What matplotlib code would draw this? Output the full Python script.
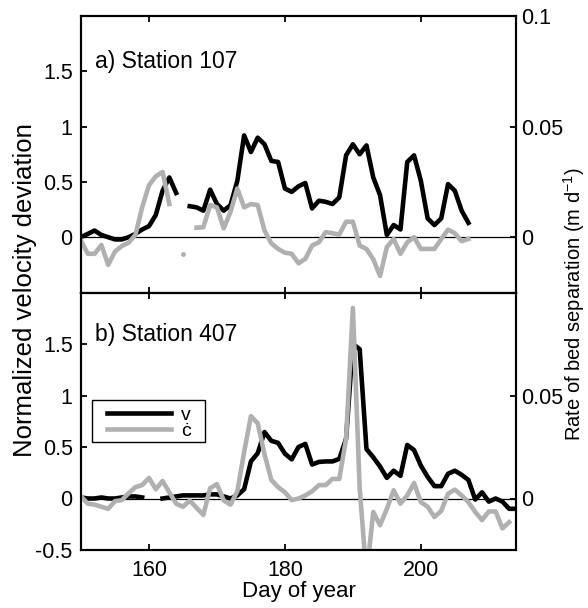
import numpy as np
import matplotlib.pyplot as plt
from matplotlib.patches import Rectangle
from matplotlib.ticker import FormatStrFormatter

plt.rcParams['font.family'] = ['Liberation Sans', 'DejaVu Sans']
plt.rcParams['mathtext.default'] = 'regular'
plt.rcParams['axes.unicode_minus'] = False

nan = np.nan

# station 107, days 150-207
days107 = np.arange(150, 208)
v107 = [0.00, 0.03, 0.06, 0.02, 0.00, -0.02, -0.02, 0.00, 0.03, 0.07,   # 150-159
        0.10, 0.20, 0.42, 0.54, 0.40, nan, 0.28, 0.27, 0.24, 0.43,      # 160-169
        0.30, 0.24, 0.29, 0.51, 0.92, 0.77, 0.90, 0.84, 0.69, 0.68,     # 170-179
        0.44, 0.41, 0.46, 0.49, 0.26, 0.33, 0.32, 0.30, 0.36, 0.74,     # 180-189
        0.84, 0.75, 0.83, 0.54, 0.38, 0.02, 0.11, 0.07, 0.68, 0.74,     # 190-199
        0.51, 0.17, 0.11, 0.17, 0.48, 0.42, 0.24, 0.13]                 # 200-207
# rate of bed separation (m/d)
c107 = [-0.0015, -0.0075, -0.0075, -0.0035, -0.0125, -0.0065, -0.0040, -0.0025, 0.0010, 0.0135,
        0.0235, 0.0275, 0.0295, 0.0150, nan, -0.0075, nan, 0.0043, 0.0045, 0.0145,
        0.0135, 0.0040, 0.0115, 0.0220, 0.0135, 0.0150, 0.0145, 0.0030, -0.0028, -0.0053,
        -0.0070, -0.0075, -0.0118, -0.0098, -0.0038, -0.0023, 0.0023, 0.0018, 0.0012, 0.0070,
        0.0070, -0.0038, -0.0053, -0.0100, -0.0175, -0.0045, -0.0008, -0.0075, -0.0023, 0.0000,
        -0.0053, -0.0053, -0.0053, -0.0008, 0.0034, 0.0018, -0.0018, -0.0008]

# station 407, days 150-214
days407 = np.arange(150, 215)
v407 = [0.01, 0.00, 0.00, 0.01, 0.00, 0.00, 0.01, 0.02, 0.02, 0.01,     # 150-159
        nan, nan, 0.00, 0.01, 0.02, 0.03, 0.03, 0.03, 0.03, 0.04,       # 160-169
        0.04, 0.02, 0.00, 0.03, 0.09, 0.36, 0.44, 0.645, 0.56, 0.54,    # 170-179
        0.435, 0.38, 0.50, 0.53, 0.33, 0.355, 0.36, 0.36, 0.385, 0.58,  # 180-189
        1.50, 1.45, 0.48, 0.40, 0.31, 0.20, 0.27, 0.22, 0.52, 0.47,     # 190-199
        0.32, 0.21, 0.12, 0.12, 0.24, 0.27, 0.23, 0.18, -0.01, 0.06,    # 200-209
        -0.03, 0.00, -0.03, -0.10, -0.10]                               # 210-214
c407 = [0.0010, -0.0025, -0.0030, -0.0040, -0.0050, -0.0013, -0.0008, 0.0025, 0.0055, 0.0065,
        0.0100, 0.0045, 0.0085, 0.0030, -0.0025, -0.0040, -0.0010, -0.0045, -0.0080, 0.0050,
        0.0070, -0.0010, -0.0030, 0.0035, 0.0225, 0.0400, 0.0365, 0.0215, 0.0090, 0.0055,
        0.0030, -0.0008, 0.0000, 0.0015, 0.0035, 0.0065, 0.0065, 0.0095, 0.0095, 0.0290,
        0.0925, 0.0050, -0.0375, -0.0065, -0.0130, -0.0050, 0.0040, -0.0025, 0.0015, 0.0075,
        -0.0018, -0.0040, -0.0090, -0.0060, 0.0023, 0.0043, 0.0015, -0.0018, -0.0065, -0.0105,
        -0.0063, -0.0063, -0.0145, -0.0115, nan]

gray = '#b0b0b0'
lw = 3.3

fig = plt.figure(figsize=(5.88, 6.08), dpi=100)
ax_top = fig.add_axes([81 / 588, 1 - 292.5 / 608, 435 / 588, 276.5 / 608])
ax_bot = fig.add_axes([81 / 588, 1 - 550 / 608, 435 / 588, 257.5 / 608])


def panel(ax, d, v, c, title, yticks, rticks):
    ax.axhline(0, color='k', lw=0.9)
    lv, = ax.plot(d, v, color='k', lw=lw)
    ax.set_xlim(150, 214)
    ax.set_ylim(-0.5, 2.0)
    ax.set_xticks([160, 180, 200])
    ax.set_yticks(yticks)
    ax.yaxis.set_major_formatter(FormatStrFormatter('%g'))
    ax.tick_params(direction='in', length=4, width=1.3, top=True, labelsize=15.5)
    ax.tick_params(axis='x', pad=7)
    ax.tick_params(axis='y', pad=6)
    ax.text(0.032, 0.812, title, transform=ax.transAxes, fontsize=16.5, va='baseline')

    ax2 = ax.twinx()
    c = np.array(c, dtype=float)
    lc, = ax2.plot(d, c, color=gray, lw=lw)
    # single points between gaps
    prev = np.r_[nan, c[:-1]]
    nxt = np.r_[c[1:], nan]
    lone = ~np.isnan(c) & np.isnan(prev) & np.isnan(nxt)
    ax2.plot(d[lone], c[lone], 'o', color=gray, ms=3.5, mew=0)
    ax2.set_ylim(-0.025, 0.1)
    ax2.set_yticks(rticks)
    ax2.yaxis.set_major_formatter(FormatStrFormatter('%g'))
    ax2.tick_params(direction='in', length=4, width=1.3, labelsize=15.5, pad=4)
    for a in (ax, ax2):
        for s in a.spines.values():
            s.set_linewidth(1.5)
    return lv, lc, ax2


panel(ax_top, days107, v107, c107, 'a) Station 107', [0, 0.5, 1, 1.5], [0, 0.05, 0.1])
ax_top.tick_params(labelbottom=False)
lv, lc, ax2b = panel(ax_bot, days407, v407, c407, 'b) Station 407',
                     [-0.5, 0, 0.5, 1, 1.5], [0, 0.05])

# legend box drawn separately (wider than the legend content, as in the original)
ax2b.add_patch(Rectangle((0.0253, 0.419), 0.2597, 0.1635, transform=ax2b.transAxes,
                         facecolor='white', edgecolor='k', lw=1.0, zorder=4))
leg = ax2b.legend([lv, lc], ['v', '\u010b'], loc='upper left',
                  bbox_to_anchor=(0.0437, 0.583), borderaxespad=0, fontsize=14,
                  handlelength=3.3, handletextpad=0.5, borderpad=0.35,
                  labelspacing=-0.1, frameon=False)
leg.set_zorder(5)

fig.text(298.5 / 588, 1 - 592 / 608, 'Day of year', ha='center', va='center', fontsize=16)
fig.text(25 / 588, 1 - 290 / 608, 'Normalized velocity deviation', rotation=90,
         ha='center', va='center', fontsize=18.5)
fig.text(574 / 588, 1 - 304 / 608, 'Rate of bed separation (m d$^{-1}$)', rotation=90,
         ha='center', va='center', fontsize=14.5)

fig.savefig('out.png', dpi=100)
